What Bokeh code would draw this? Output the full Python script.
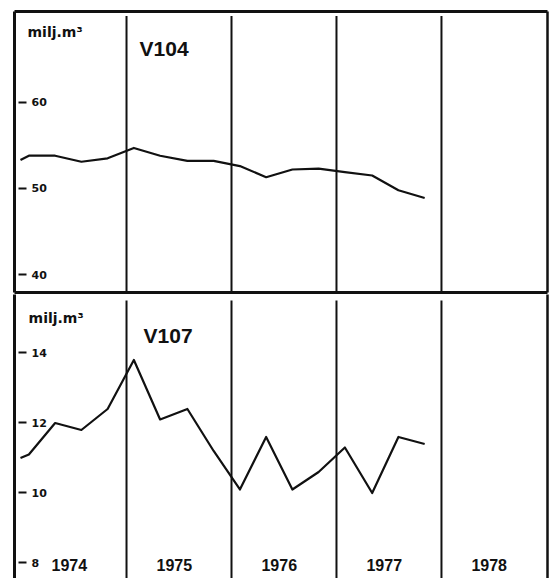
from bokeh.plotting import figure
from bokeh.models import Range1d, LinearAxis, FixedTicker, Label
from bokeh.layouts import column
from bokeh.embed import file_html
from bokeh.resources import INLINE

# ---------------- data ----------------
quarter_t = [1973.99, 1974.07, 1974.32, 1974.57, 1974.82, 1975.07, 1975.32, 1975.58, 1975.83,
             1976.08, 1976.33, 1976.58, 1976.83, 1977.08, 1977.34, 1977.59, 1977.84]
v104 = [53.3, 53.8, 53.8, 53.1, 53.5, 54.7, 53.8, 53.2, 53.2,
        52.6, 51.3, 52.2, 52.3, 51.9, 51.5, 49.8, 48.9]
v107 = [11.0, 11.1, 12.0, 11.8, 12.4, 13.8, 12.1, 12.4, 11.2,
        10.1, 11.6, 10.1, 10.6, 11.3, 10.0, 11.6, 11.4]
years = [1974, 1975, 1976, 1977, 1978]
year_boundaries = [1975, 1976, 1977, 1978]
v104_ticks = [40, 50, 60]
v107_ticks = [8, 10, 12, 14]
unit_label = "milj.m³"
panel_titles = ["V104", "V107"]

# ---------------- layout / style ----------------
W = 549
X_RANGE = (1973.933, 1979.01)
TICK_AXIS_X = 1973.971
BLACK = "#111111"
TOP_Y = (37.93, 70.53)
BOT_Y = (7.557, 15.671)


def border_axis(width):
    ax = LinearAxis(ticker=FixedTicker(ticks=[]))
    ax.axis_line_color = BLACK
    ax.axis_line_width = width
    ax.major_tick_out = 0
    ax.major_tick_in = 0
    ax.minor_tick_out = 0
    ax.minor_tick_in = 0
    ax.major_label_text_font_size = "0px"
    return ax


def value_axis(ticks):
    ax = LinearAxis(ticker=FixedTicker(ticks=ticks), fixed_location=TICK_AXIS_X)
    ax.axis_line_color = None
    ax.major_tick_out = 8
    ax.major_tick_in = 0
    ax.major_tick_line_width = 2
    ax.major_tick_line_color = BLACK
    ax.minor_tick_line_color = None
    ax.major_label_standoff = 5
    ax.major_label_text_font = "DejaVu Sans"
    ax.major_label_text_font_style = "bold"
    ax.major_label_text_font_size = "11px"
    ax.major_label_text_color = BLACK
    return ax


def make_fig(height, y_range, top_border, bottom_border, mb_top, mb_bottom):
    p = figure(width=W, height=height, x_range=Range1d(*X_RANGE), y_range=Range1d(*y_range),
               x_axis_type=None, y_axis_type=None, toolbar_location=None,
               output_backend="svg", min_border_left=14, min_border_right=2,
               min_border_top=mb_top, min_border_bottom=mb_bottom)
    p.outline_line_color = None
    p.background_fill_color = "white"
    p.border_fill_color = "white"
    p.xgrid.visible = False
    p.ygrid.visible = False
    p.add_layout(border_axis(3), "left")
    p.add_layout(border_axis(2.5), "right")
    if top_border:
        p.add_layout(border_axis(3), "above")
    if bottom_border:
        p.add_layout(border_axis(3), "below")
    return p


# ---------------- top panel (V104) ----------------
top = make_fig(294, TOP_Y, True, True, 11, 2)
top.segment(x0=year_boundaries, y0=[TOP_Y[0]] * len(year_boundaries),
            x1=year_boundaries, y1=[70.0] * len(year_boundaries),
            line_color=BLACK, line_width=2)
top.line(quarter_t, v104, line_color=BLACK, line_width=2.2, line_join="round")
top.add_layout(value_axis(v104_ticks), "right")
top.add_layout(Label(x=1974.057, y=68.1, text=unit_label, text_font="DejaVu Sans",
                     text_font_style="bold", text_font_size="14px", text_color=BLACK,
                     text_baseline="alphabetic"))
top.add_layout(Label(x=1975.124, y=66.2, text=panel_titles[0], text_font="Liberation Sans",
                     text_font_style="bold", text_font_size="21px", text_color=BLACK,
                     text_baseline="alphabetic"))

# ---------------- bottom panel (V107) ----------------
bot = make_fig(284, BOT_Y, False, False, 0, 0)
bot.segment(x0=year_boundaries, y0=[BOT_Y[0]] * len(year_boundaries),
            x1=year_boundaries, y1=[15.5] * len(year_boundaries),
            line_color=BLACK, line_width=2)
bot.line(quarter_t, v107, line_color=BLACK, line_width=2.2, line_join="round")
bot.add_layout(value_axis(v107_ticks), "right")

year_ticks = [round(y + 0.455, 3) for y in years]
xa = LinearAxis(ticker=FixedTicker(ticks=year_ticks), fixed_location=8.1)
xa.axis_line_color = None
xa.major_tick_out = 0
xa.major_tick_in = 0
xa.minor_tick_line_color = None
xa.major_label_standoff = 0
xa.major_label_overrides = {t: str(y) for t, y in zip(year_ticks, years)}
xa.major_label_text_font = "Liberation Sans"
xa.major_label_text_font_style = "bold"
xa.major_label_text_font_size = "16px"
xa.major_label_text_color = BLACK
bot.add_layout(xa, "below")

bot.add_layout(Label(x=1974.067, y=14.99, text=unit_label, text_font="DejaVu Sans",
                     text_font_style="bold", text_font_size="14px", text_color=BLACK,
                     text_baseline="alphabetic"))
bot.add_layout(Label(x=1975.162, y=14.5, text=panel_titles[1], text_font="Liberation Sans",
                     text_font_style="bold", text_font_size="21px", text_color=BLACK,
                     text_baseline="alphabetic"))

layout = column(top, bot, spacing=0)
open("out.html", "w").write(file_html(layout, INLINE))
